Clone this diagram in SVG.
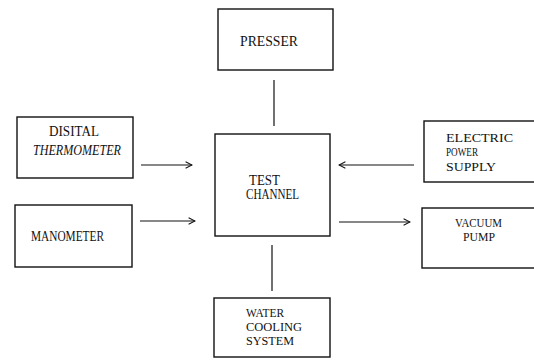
<svg xmlns="http://www.w3.org/2000/svg" width="534" height="360" viewBox="0 0 534 360">
<style>
.box{fill:none;stroke:#111;stroke-width:1.4}
.ln{fill:none;stroke:#111;stroke-width:1.2}
text{font-family:"Liberation Serif","DejaVu Serif",serif;font-size:14px;fill:#111}
.s{font-size:12px}
</style>
<defs>
<marker id="ah" viewBox="0 0 10 10" refX="9" refY="5" markerWidth="8" markerHeight="8" markerUnits="userSpaceOnUse" orient="auto">
<polyline points="1,1 9,5 1,9" fill="none" stroke="#111" stroke-width="1.3"/>
</marker>
</defs>
<rect width="534" height="360" fill="#fff"/>
<g id="connectors">
<line class="ln" x1="274" y1="80" x2="274" y2="126"/>
<line class="ln" x1="272" y1="245" x2="272" y2="291"/>
<line class="ln" x1="141" y1="165" x2="192" y2="165" marker-end="url(#ah)"/>
<line class="ln" x1="140" y1="221" x2="195" y2="221" marker-end="url(#ah)"/>
<line class="ln" x1="414" y1="165" x2="339" y2="165" marker-end="url(#ah)"/>
<line class="ln" x1="339" y1="222" x2="410" y2="222" marker-end="url(#ah)"/>
</g>
<g id="presser">
<rect class="box" x="218" y="9" width="115" height="61"/>
<text x="240" y="46" textLength="58" lengthAdjust="spacingAndGlyphs">PRESSER</text>
</g>
<g id="test-channel">
<rect class="box" x="215" y="134" width="115" height="102"/>
<text x="249" y="185" textLength="31" lengthAdjust="spacingAndGlyphs">TEST</text>
<text x="246" y="199" textLength="53" lengthAdjust="spacingAndGlyphs">CHANNEL</text>
</g>
<g id="water-cooling">
<rect class="box" x="214" y="298" width="116" height="59"/>
<text class="s" x="246" y="317" textLength="38" lengthAdjust="spacingAndGlyphs">WATER</text>
<text class="s" x="246" y="331" textLength="56" lengthAdjust="spacingAndGlyphs">COOLING</text>
<text class="s" x="246" y="345" textLength="48" lengthAdjust="spacingAndGlyphs">SYSTEM</text>
</g>
<g id="digital-thermometer">
<rect class="box" x="17" y="117" width="116" height="61"/>
<text x="49" y="136" textLength="50" lengthAdjust="spacingAndGlyphs">DISITAL</text>
<text x="33" y="155" textLength="88" lengthAdjust="spacingAndGlyphs" font-style="italic">THERMOMETER</text>
</g>
<g id="manometer">
<rect class="box" x="15" y="205" width="117" height="62"/>
<text x="31" y="241" textLength="73" lengthAdjust="spacingAndGlyphs">MANOMETER</text>
</g>
<g id="electric-power-supply">
<rect class="box" x="424" y="121" width="120" height="61"/>
<text class="s" x="446" y="142" textLength="67" lengthAdjust="spacingAndGlyphs">ELECTRIC</text>
<text class="s" x="446" y="156" textLength="32" lengthAdjust="spacingAndGlyphs">POWER</text>
<text class="s" x="446" y="171" textLength="50" lengthAdjust="spacingAndGlyphs">SUPPLY</text>
</g>
<g id="vacuum-pump">
<rect class="box" x="422" y="208" width="120" height="60"/>
<text class="s" x="455" y="227" textLength="47" lengthAdjust="spacingAndGlyphs">VACUUM</text>
<text class="s" x="463" y="241" textLength="32" lengthAdjust="spacingAndGlyphs">PUMP</text>
</g>
</svg>
